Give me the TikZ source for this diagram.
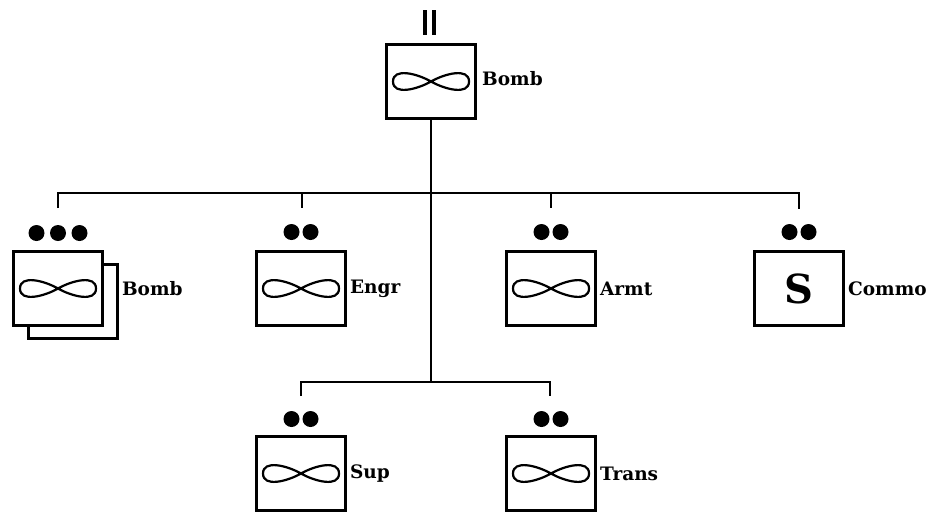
\documentclass[tikz,border=0pt]{standalone}
\usepackage{fontspec}
\setmainfont{DejaVu Serif}
\begin{document}
\begin{tikzpicture}[x=1pt,y=-1pt,
  unitbox/.style={draw, line width=2.8pt, minimum width=89pt, minimum height=74pt, inner sep=0pt, fill=white},
  lbl/.style={anchor=west, font=\bfseries\fontsize{18.5}{20}\selectfont, inner sep=0pt},
  bigdot/.style={circle, fill=black, minimum size=16pt, inner sep=0pt},
  link/.style={line width=2.8pt},
  infsym/.pic={\draw[line width=2.2pt] (0,0) .. controls (-14,-8) and (-38,-14) .. (-38,0) .. controls (-38,14) and (-14,8) .. (0,0) .. controls (14,-8) and (38,-14) .. (38,0) .. controls (38,14) and (14,8) .. (0,0);}]
\useasboundingbox (0,0) rectangle (936,515);

% top unit
\node[unitbox] (top) at (431,81.5) {};
\pic at (top.center) {infsym};
\node[lbl] (toplbl) at (482,79) {Bomb};
\draw[line width=3.4pt] (425,10) -- (425,35) (434,10) -- (434,35);

% row units
\node[unitbox] (bombB) at (73,301.5) {};
\node[unitbox] (bomb) at (58,288.5) {};
\pic at (bomb.center) {infsym};
\node[lbl] at ([xshift=3pt]bombB.east |- bomb.center) {Bomb};

\node[unitbox] (engr) at (301,288.5) {};
\pic at (engr.center) {infsym};
\node[lbl] at ([xshift=3pt]engr.east) {Engr};

\node[unitbox] (armt) at (551,288.5) {};
\pic at (armt.center) {infsym};
\node[lbl] at ([xshift=3pt]armt.east) {Armt};

\node[unitbox, font=\bfseries\fontsize{40}{40}\selectfont] (commo) at (799,288.5) {S};
\node[lbl] at ([xshift=3pt]commo.east) {Commo};

% bottom units
\node[unitbox] (sup) at (301,473.5) {};
\pic at (sup.center) {infsym};
\node[lbl] at ([xshift=3pt]sup.east) {Sup};

\node[unitbox] (trans) at (551,473.5) {};
\pic at (trans.center) {infsym};
\node[lbl] at ([xshift=3pt]trans.east) {Trans};

% echelon dots
\node[bigdot] (b1) at (36.5,233) {};
\node[bigdot] (b2) at (58,233) {};
\node[bigdot] (b3) at (79.5,233) {};
\node[bigdot] (e1) at (291.5,232) {};
\node[bigdot] (e2) at (310.5,232) {};
\node[bigdot] (a1) at (541.5,232) {};
\node[bigdot] (a2) at (560.5,232) {};
\node[bigdot] (c1) at (789.5,232) {};
\node[bigdot] (c2) at (808.5,232) {};
\node[bigdot] (s1) at (291.5,419) {};
\node[bigdot] (s2) at (310.5,419) {};
\node[bigdot] (t1) at (541.5,419) {};
\node[bigdot] (t2) at (560.5,419) {};

% connector coordinates
\coordinate (j1) at (431,193);
\coordinate (j2) at (431,382);
\coordinate (hb) at (58,193);
\coordinate (he) at (302,193);
\coordinate (ha) at (551,193);
\coordinate (hc) at (799,193);
\coordinate (db) at (58,208);
\coordinate (de) at (302,208);
\coordinate (da) at (551,208);
\coordinate (dc) at (799,209);
\coordinate (hs) at (301,382);
\coordinate (ht) at (550,382);
\coordinate (ds) at (301,396);
\coordinate (dt) at (550,396);

\draw[link] (top.south) -- (j1) -- (j2);
\draw[link] (db) -- (hb) -- (hc) -- (dc);
\draw[link] (he) -- (de);
\draw[link] (ha) -- (da);
\draw[link] (ds) -- (hs) -- (ht) -- (dt);
\end{tikzpicture}
\end{document}
